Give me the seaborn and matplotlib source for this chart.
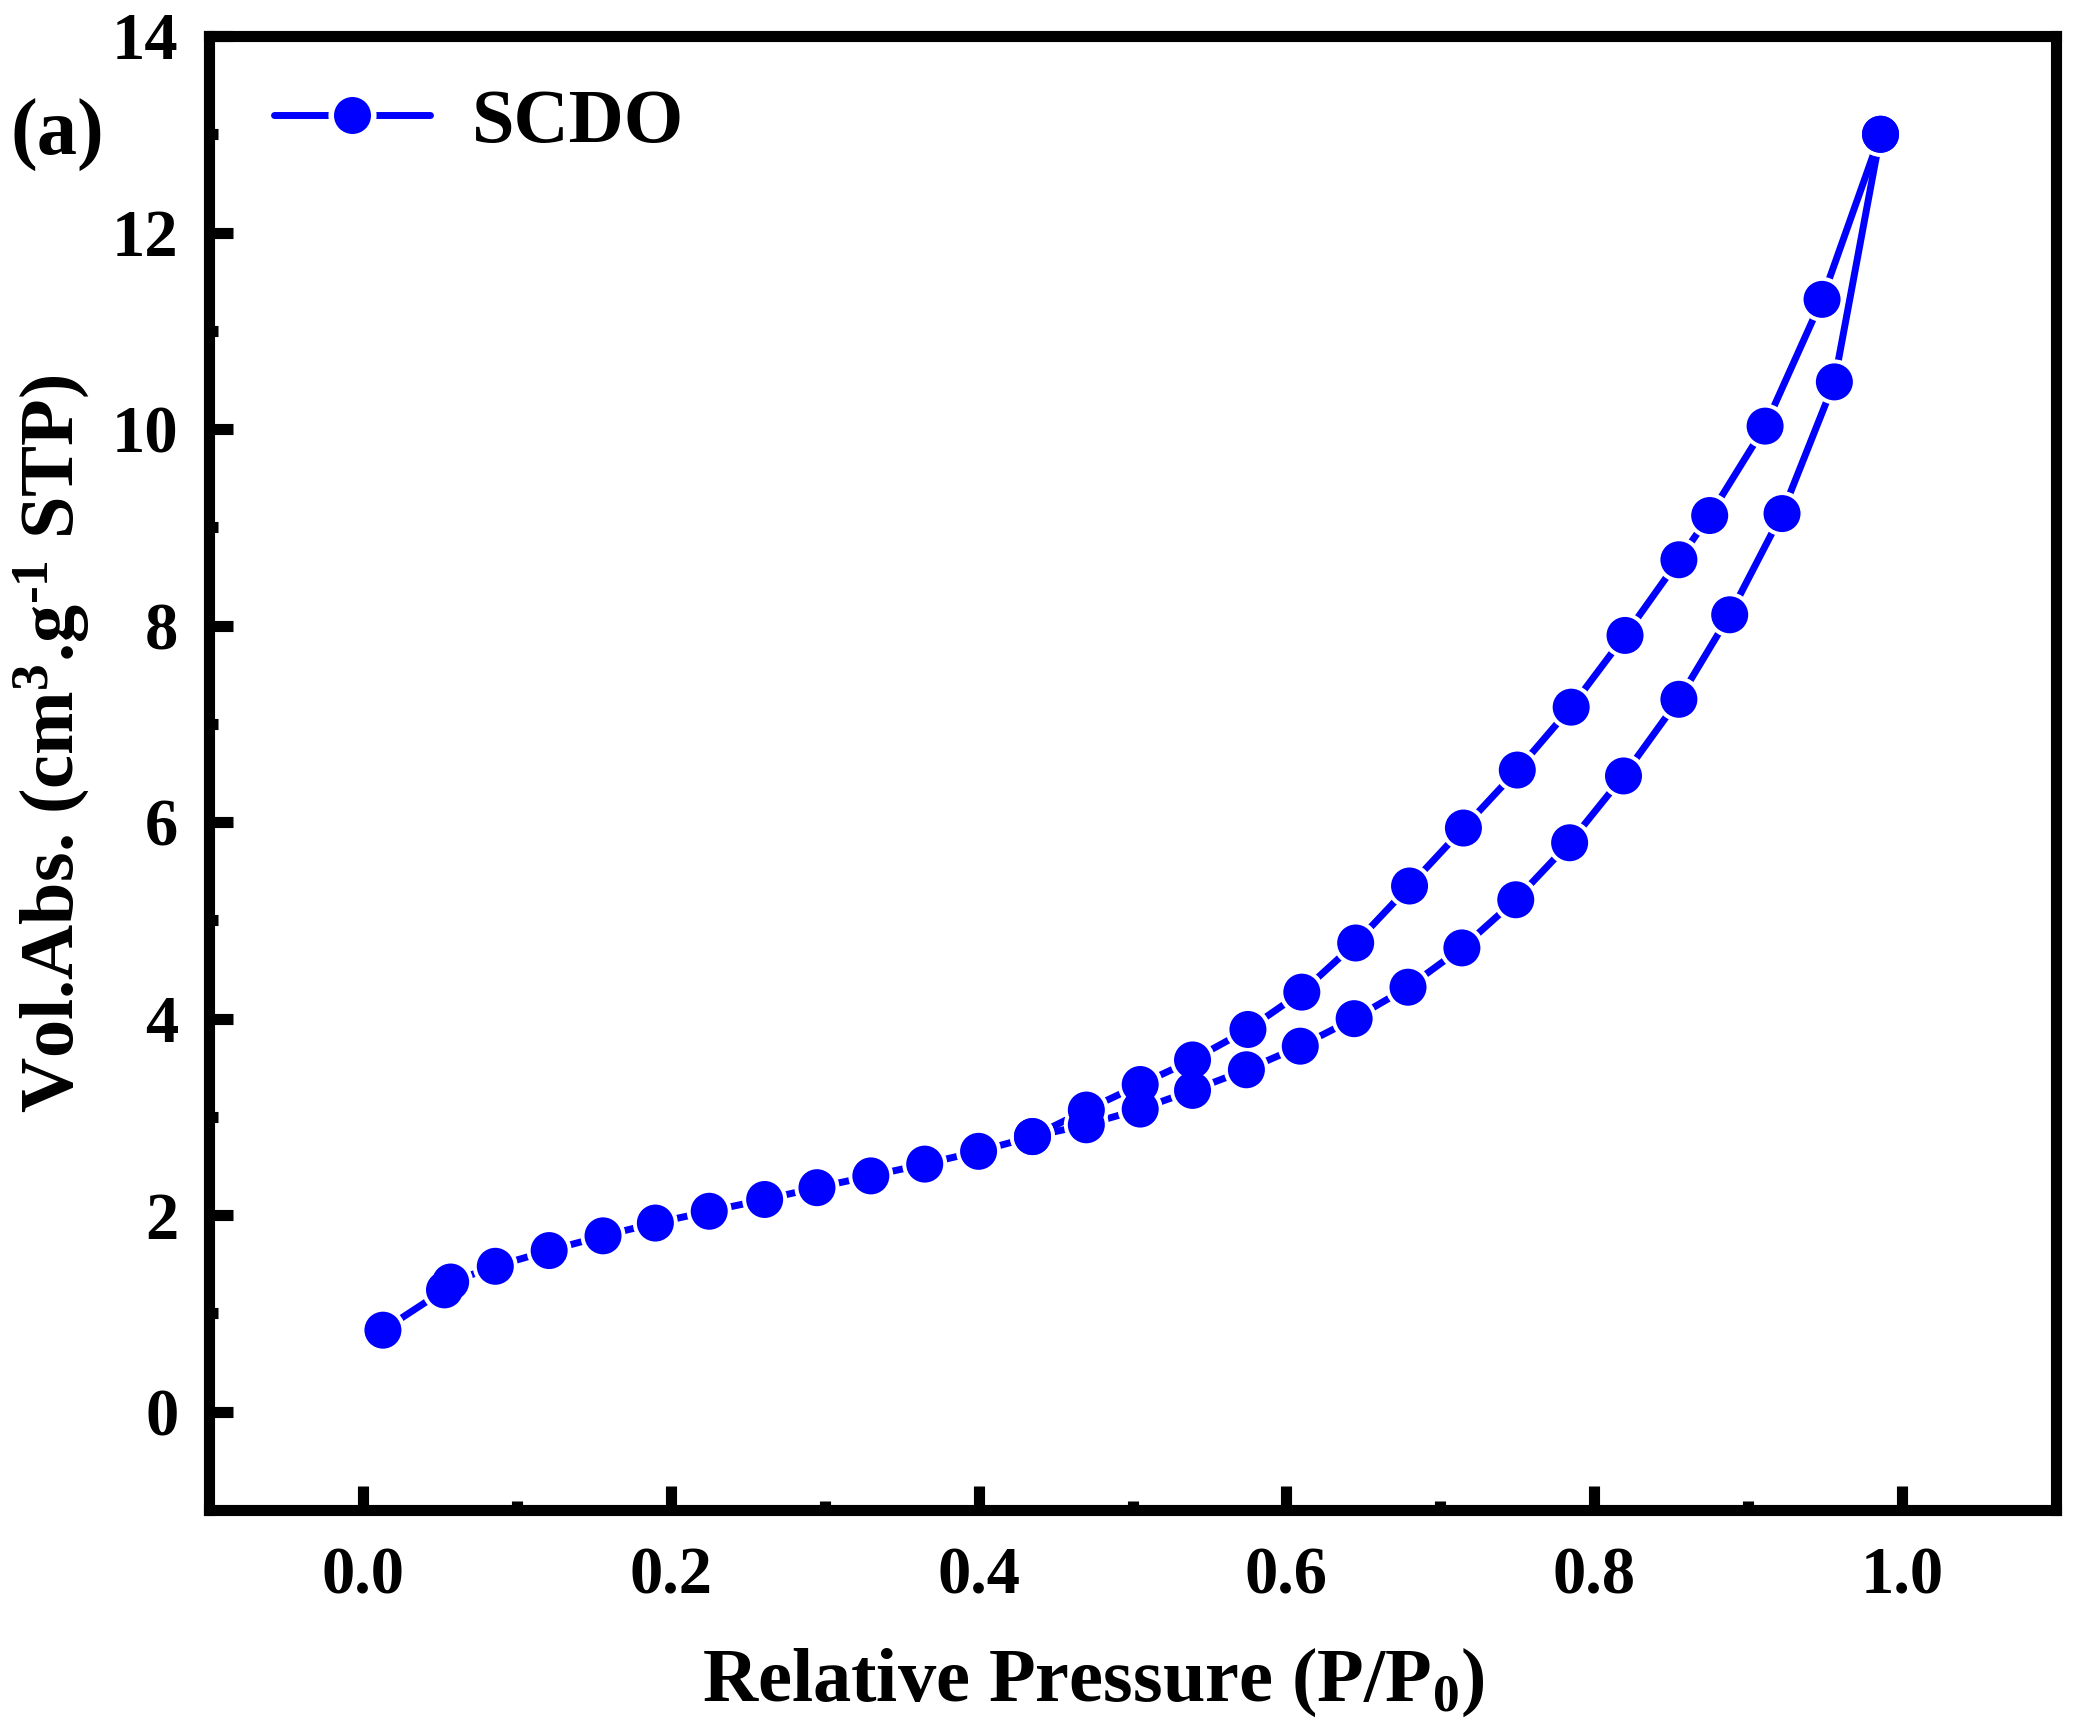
import numpy as np
import pandas as pd
import matplotlib
matplotlib.use("Agg")
import matplotlib.pyplot as plt
import seaborn as sns
from matplotlib.lines import Line2D
from matplotlib.ticker import FixedLocator, FormatStrFormatter

# ---- data ----
ads_p = [0.013, 0.053, 0.057, 0.086, 0.121, 0.156, 0.190, 0.225, 0.261, 0.295,
         0.330, 0.365, 0.400, 0.435, 0.470, 0.505, 0.539, 0.574, 0.609, 0.644,
         0.679, 0.714, 0.749, 0.784, 0.819, 0.855, 0.888, 0.922, 0.956, 0.986]
ads_v = [0.83, 1.24, 1.32, 1.48, 1.64, 1.79, 1.92, 2.04, 2.16, 2.28,
         2.40, 2.52, 2.65, 2.80, 2.92, 3.08, 3.27, 3.48, 3.72, 4.00,
         4.32, 4.72, 5.21, 5.79, 6.47, 7.25, 8.11, 9.14, 10.48, 13.00]
des_p = [0.986, 0.948, 0.911, 0.875, 0.855, 0.820, 0.785, 0.750, 0.715, 0.680,
         0.645, 0.610, 0.575, 0.539, 0.505, 0.470, 0.435]
des_v = [13.00, 11.32, 10.03, 9.12, 8.67, 7.90, 7.17, 6.53, 5.94, 5.35,
         4.77, 4.27, 3.89, 3.58, 3.33, 3.07, 2.80]
series_label = "SCDO"
x_ticks = [0.0, 0.2, 0.4, 0.6, 0.8, 1.0]
x_minor = [0.1, 0.3, 0.5, 0.7, 0.9]
y_ticks = [0, 2, 4, 6, 8, 10, 12, 14]
y_minor = [1, 3, 5, 7, 9, 11, 13]

# ---- style ----
sns.set_style("ticks")
plt.rcParams["font.family"] = ["Liberation Serif", "DejaVu Serif"]
plt.rcParams["font.weight"] = "bold"
plt.rcParams["mathtext.fontset"] = "custom"
plt.rcParams["mathtext.rm"] = "Liberation Serif:bold"
plt.rcParams["mathtext.it"] = "Liberation Serif:italic:bold"
plt.rcParams["mathtext.bf"] = "Liberation Serif:bold"
for k in ("text.color", "axes.labelcolor", "xtick.color", "ytick.color",
          "xtick.labelcolor", "ytick.labelcolor", "axes.edgecolor"):
    plt.rcParams[k] = "black"

W, H = 2073, 1732
fig = plt.figure(figsize=(W / 100, H / 100), dpi=100)
L, R, T, B = 209, 2056, 36, 1510
ax = fig.add_axes([L / W, 1 - B / H, (R - L) / W, (B - T) / H])

blue = "#0000FF"
pt = 0.72  # points per pixel at 100 dpi
ms_px, halo_px = 37, 45

df_ads = pd.DataFrame({"p": ads_p, "v": ads_v})
df_des = pd.DataFrame({"p": des_p, "v": des_v})
for df in (df_ads, df_des):
    sns.lineplot(data=df, x="p", y="v", sort=False, estimator=None,
                 color=blue, lw=5, ax=ax, zorder=2)
both = pd.concat([df_ads, df_des], ignore_index=True)
sns.scatterplot(data=both, x="p", y="v", s=(halo_px * pt) ** 2, color="white",
                edgecolor="none", linewidth=0, ax=ax, zorder=3)
sns.scatterplot(data=both, x="p", y="v", s=(ms_px * pt) ** 2, color=blue,
                edgecolor="none", linewidth=0, ax=ax, zorder=4)

ax.set_xlim(-0.1, 1.1)
ax.set_ylim(-1, 14)
ax.xaxis.set_major_locator(FixedLocator(x_ticks))
ax.xaxis.set_minor_locator(FixedLocator(x_minor))
ax.yaxis.set_major_locator(FixedLocator(y_ticks))
ax.yaxis.set_minor_locator(FixedLocator(y_minor))
ax.xaxis.set_major_formatter(FormatStrFormatter("%.1f"))
ax.yaxis.set_major_formatter(FormatStrFormatter("%d"))

for s in ax.spines.values():
    s.set_linewidth(8)
    s.set_color("black")
    s.set_visible(True)
ax.tick_params(which="both", direction="in", top=False, right=False, width=8,
               color="black", labelcolor="black")
ax.tick_params(which="major", length=17)
ax.tick_params(which="minor", length=6.5)
ax.tick_params(axis="x", which="major", pad=26, labelsize=48)
ax.tick_params(axis="y", which="major", pad=22, labelsize=48)
for lab in ax.get_xticklabels() + ax.get_yticklabels():
    lab.set_fontweight("bold")

ax.set_xlabel("Relative Pressure (P/P$_0$)", fontsize=55, fontweight="bold",
              color="black")
ax.set_ylabel(r"Vol.Abs. (cm$^3$.g$^{\text{-}1}$ STP)", fontsize=55,
              fontweight="bold", color="black")
ax.xaxis.set_label_coords(0.4786, -0.0916)
ax.yaxis.label.set_va("center")
ax.yaxis.set_label_coords(-0.0856, 0.52)

w = 4
handle = Line2D([0], [0], color=blue, lw=5, marker="o", ms=ms_px * pt + w,
                mew=w, mec="white", mfc=blue)
leg = ax.legend(handles=[handle], labels=[series_label], loc="center left",
                bbox_to_anchor=(0.0352, 0.941), frameon=False,
                prop={"size": 55, "weight": "bold"}, handlelength=2.04,
                handletextpad=0.55, borderpad=0, borderaxespad=0)
for t in leg.get_texts():
    t.set_color("black")

fig.text(10 / W, 1 - 135 / H, "(a)", fontsize=58, fontweight="bold",
         ha="left", va="center", color="black")

fig.savefig("out.png", dpi=100)
